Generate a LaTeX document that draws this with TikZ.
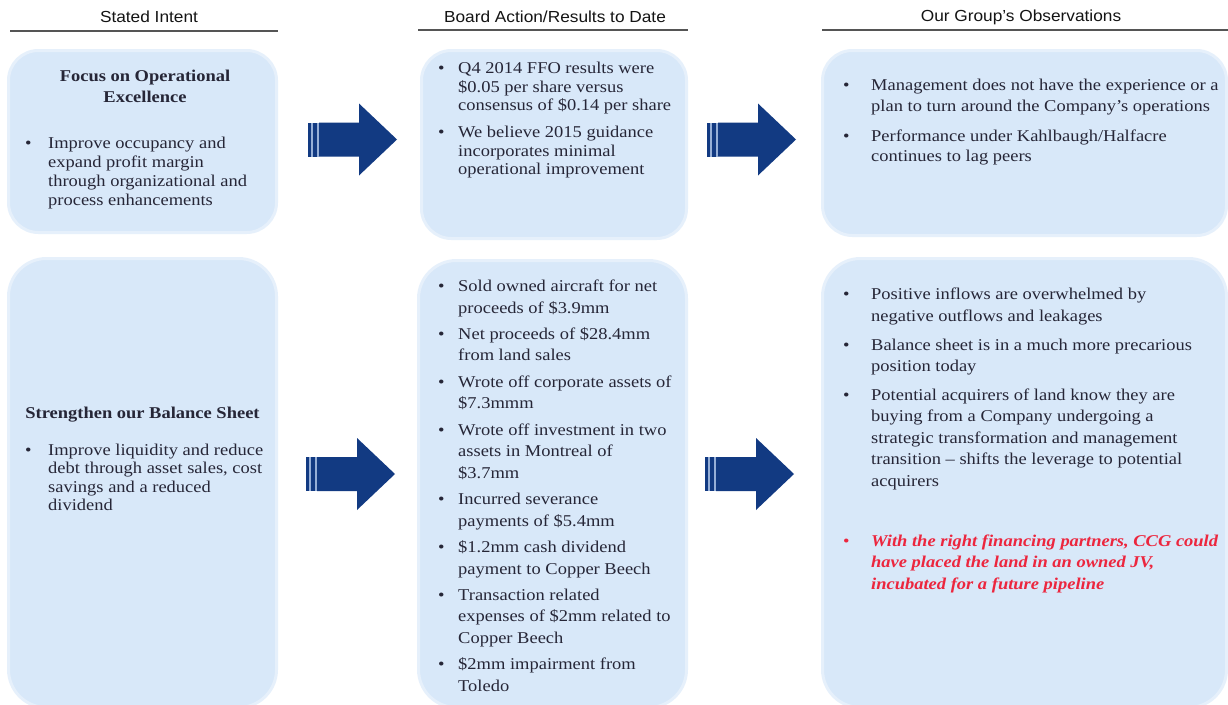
\documentclass[tikz,border=0pt]{standalone}
\usepackage{fontspec}
\setmainfont{Liberation Serif}[FakeStretch=1.12]
\setsansfont{Liberation Sans}[FakeStretch=1.08]
\usetikzlibrary{calc}
\definecolor{boxblue}{RGB}{216,232,249}
\definecolor{boxrim}{RGB}{230,240,251}
\definecolor{navy}{RGB}{18,58,130}
\definecolor{stripe}{RGB}{150,175,215}
\definecolor{txt}{RGB}{38,38,55}
\definecolor{hot}{RGB}{236,38,62}
\definecolor{rulegray}{RGB}{85,85,85}
\newcommand\bu[1]{\makebox[#1][l]{\textbullet}}
\newcommand\hotx[1]{\textcolor{hot}{\bfseries\itshape #1}}
\tikzset{
  panel/.style={rectangle, rounded corners=#1, fill=boxblue, draw=boxrim, line width=3pt, inner sep=0pt, outer sep=0pt},
  body/.style={text=txt, inner sep=0pt, anchor=base west, font=\fontsize{16.5}{#1}\selectfont},
  ttl/.style={text=txt, inner sep=0pt, anchor=base, font=\fontsize{16.5}{#1}\selectfont\bfseries},
  head/.style={text=black!92, inner sep=0pt, font=\sffamily\fontsize{16}{19}\selectfont},
  hrule/.style={draw=rulegray, line width=1.8pt},
  pics/blockarrow/.style={code={
    \fill[stripe] (0,-17) rectangle (11,17);
    \fill[navy] (0,-17) rectangle (2.5,17);
    \fill[navy] (4.5,-17) rectangle (9,17);
    \fill[navy] (11,-17) -- (51,-17) -- (51,-36) -- (89,0) -- (51,36) -- (51,17) -- (11,17) -- cycle;
  }}
}
\begin{document}
\begin{tikzpicture}[x=1pt,y=-1pt]
\useasboundingbox (0,0) rectangle (1228,704);
\fill[white] (0,0) rectangle (1228,704);

% headers
\node[head] (h1) at (149,17) {Stated Intent};
\node[head] (h2) at (555,17) {Board Action/Results to Date};
\node[head] (h3) at (1021,17) {Our Group’s Observations};
\coordinate (r1a) at (10,31); \coordinate (r1b) at (278,31);
\coordinate (r2a) at (418,30); \coordinate (r2b) at (688,30);
\coordinate (r3a) at (822,30); \coordinate (r3b) at (1228,30);
\draw[hrule] (r1a) -- (r1b);
\draw[hrule] (r2a) -- (r2b);
\draw[hrule] (r3a) -- (r3b);

% panels
\node[panel=30, minimum width=268pt, minimum height=182pt] (b1) at (142.5,141.5) {};
\node[panel=30, minimum width=265pt, minimum height=188pt] (b2) at (554,144.5) {};
\node[panel=30, minimum width=404pt, minimum height=185pt] (b3) at (1024.5,143) {};
\node[panel=38, minimum width=268pt, minimum height=449pt] (b4) at (142.5,483) {};
\node[panel=38, minimum width=268pt, minimum height=447pt] (b5) at (552.5,484) {};
\node[panel=38, minimum width=404pt, minimum height=449pt] (b6) at (1024.5,483) {};

% arrows
\pic at (308,139.5) {blockarrow};
\pic at (707,139.5) {blockarrow};
\pic at (306,474) {blockarrow};
\pic at (705,474) {blockarrow};

% top-left
\node[ttl=21] (t1h) at (145,81) {\begin{tabular}[t]{@{}c@{}}Focus on Operational\\Excellence\end{tabular}};
\node[body=19] (t1) at (25,148.5) {\begin{tabular}[t]{@{}l@{}l@{}}
\bu{23pt} & Improve occupancy and\\
 & expand profit margin\\
 & through organizational and\\
 & process enhancements
\end{tabular}};

% top-middle
\node[body=18.5] (t2) at (438,73.5) {\begin{tabular}[t]{@{}l@{}l@{}}
\bu{20pt} & Q4 2014 FFO results were\\
 & \$0.05 per share versus\\
 & consensus of \$0.14 per share\\[8.5pt]
\bu{20pt} & We believe 2015 guidance\\
 & incorporates minimal\\
 & operational improvement
\end{tabular}};

% top-right
\node[body=20.5] (t3) at (843,90.5) {\begin{tabular}[t]{@{}l@{}l@{}}
\bu{28pt} & Management does not have the experience or a\\
 & plan to turn around the Company’s operations\\[9.5pt]
\bu{28pt} & Performance under Kahlbaugh/Halfacre\\
 & continues to lag peers
\end{tabular}};

% bottom-left
\node[ttl=18.5] (t4h) at (142.5,418.5) {Strengthen our Balance Sheet};
\node[body=18.5] (t4) at (25,455) {\begin{tabular}[t]{@{}l@{}l@{}}
\bu{23pt} & Improve liquidity and reduce\\
 & debt through asset sales, cost\\
 & savings and a reduced\\
 & dividend
\end{tabular}};

% bottom-middle
\node[body=21.5] (t5) at (438,291.5) {\begin{tabular}[t]{@{}l@{}l@{}}
\bu{20pt} & Sold owned aircraft for net\\
 & proceeds of \$3.9mm\\[4.9pt]
\bu{20pt} & Net proceeds of \$28.4mm\\
 & from land sales\\[4.9pt]
\bu{20pt} & Wrote off corporate assets of\\
 & \$7.3mmm\\[4.9pt]
\bu{20pt} & Wrote off investment in two\\
 & assets in Montreal of\\
 & \$3.7mm\\[4.9pt]
\bu{20pt} & Incurred severance\\
 & payments of \$5.4mm\\[4.9pt]
\bu{20pt} & \$1.2mm cash dividend\\
 & payment to Copper Beech\\[4.9pt]
\bu{20pt} & Transaction related\\
 & expenses of \$2mm related to\\
 & Copper Beech\\[4.9pt]
\bu{20pt} & \$2mm impairment from\\
 & Toledo
\end{tabular}};

% bottom-right
\node[body=21.5] (t6) at (843,299.5) {\begin{tabular}[t]{@{}l@{}l@{}}
\bu{28pt} & Positive inflows are overwhelmed by\\
 & negative outflows and leakages\\[7.5pt]
\bu{28pt} & Balance sheet is in a much more precarious\\
 & position today\\[7pt]
\bu{28pt} & Potential acquirers of land know they are\\
 & buying from a Company undergoing a\\
 & strategic transformation and management\\
 & transition \textendash{} shifts the leverage to potential\\
 & acquirers\\[38.5pt]
\textcolor{hot}{\bu{28pt}} & \hotx{With the right financing partners, CCG could}\\
 & \hotx{have placed the land in an owned JV,}\\
 & \hotx{incubated for a future pipeline}
\end{tabular}};
\end{tikzpicture}
\end{document}
